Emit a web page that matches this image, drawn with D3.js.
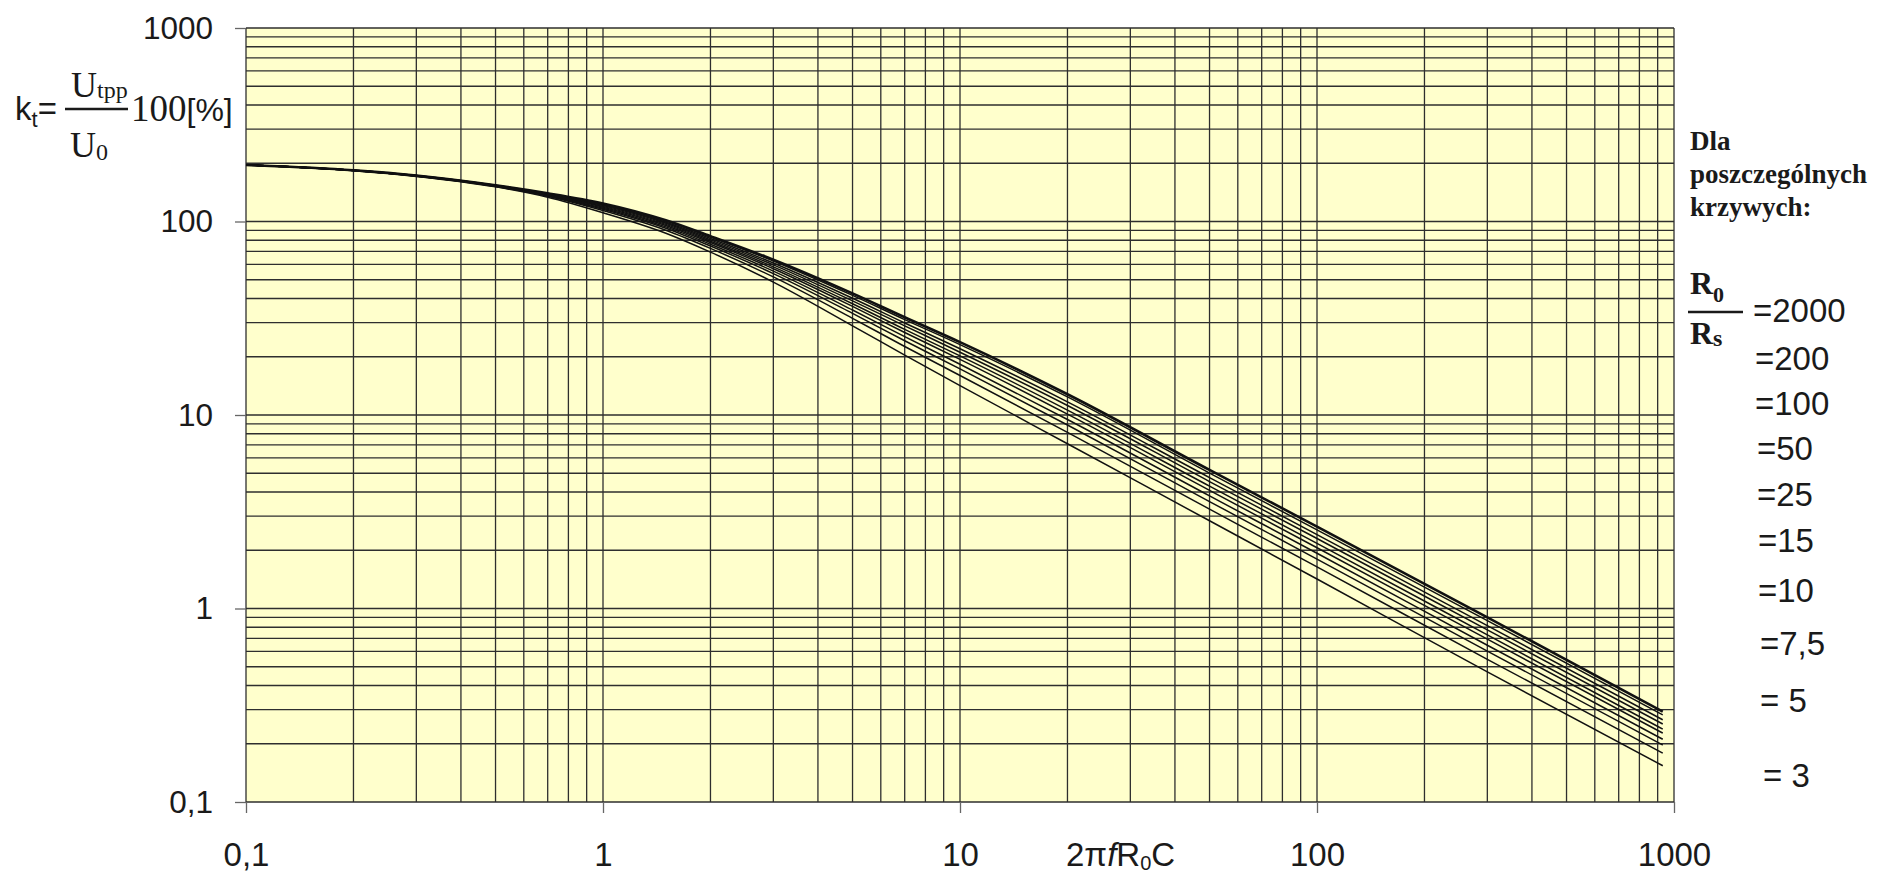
<!DOCTYPE html>
<html>
<head>
<meta charset="utf-8">
<script src="https://cdn.jsdelivr.net/npm/d3@7"></script>
<style>
    body { margin: 0; background: #ffffff; }
    svg { display: block; }
    .tick text { fill: #1a1a1a; font-family: "Liberation Sans", Arial, sans-serif; }
    .tick line { stroke: #666666; }
    .domain { display: none; }
</style>
</head>
<body>
<div id="chart"></div>
<script>

// Chart data
// ==========

// x values of the read points (2*pi*f*R0*C)
var xValues = [0.1, 0.2, 0.3, 0.5, 0.7, 1, 1.5, 2, 3, 5, 7, 10, 20, 50, 100, 300, 930];

// k_t [%] of each curve, one array per R0/Rs ratio
var k2000 = [196, 184, 173, 154, 140, 124, 101.5, 84, 63.5, 42.5, 32, 23.8, 12.8, 5.2, 2.65, 0.9, 0.293];
var k200 = [196, 183.9, 172.9, 153.8, 139.6, 123.2, 100.6, 83.1, 62.5, 41.5, 31.1, 23.1, 12.4, 5.01, 2.55, 0.866, 0.282];
var k100 = [196, 183.8, 172.7, 153.5, 139, 122, 99.2, 81.7, 61, 40.1, 29.9, 22, 11.7, 4.75, 2.41, 0.816, 0.266];
var k50 = [196, 183.8, 172.5, 153.3, 138.5, 120.9, 98, 80.4, 59.7, 38.9, 28.9, 21.1, 11.2, 4.53, 2.3, 0.775, 0.253];
var k25 = [196, 183.6, 172.4, 153, 137.9, 119.7, 96.6, 79.1, 58.3, 37.6, 27.7, 20.2, 10.6, 4.29, 2.17, 0.731, 0.238];
var k15 = [196, 183.6, 172.2, 152.8, 137.4, 118.6, 95.4, 77.9, 57, 36.4, 26.7, 19.4, 10.1, 4.08, 2.06, 0.694, 0.227];
var k10 = [196, 183.5, 172, 152.5, 136.7, 117.2, 93.8, 76.3, 55.4, 34.9, 25.4, 18.3, 9.48, 3.82, 1.93, 0.646, 0.211];
var k7_5 = [196, 183.4, 171.8, 152.1, 136, 115.7, 92.3, 74.7, 53.8, 33.5, 24.2, 17.3, 8.88, 3.57, 1.8, 0.602, 0.197];
var k5 = [196, 183.2, 171.5, 151.7, 135, 113.9, 90.1, 72.6, 51.7, 31.6, 22.6, 16, 8.13, 3.26, 1.64, 0.546, 0.179];
var k3 = [196, 183, 171, 151, 133.5, 111, 87, 69.5, 48.6, 28.9, 20.4, 14.2, 7.1, 2.84, 1.42, 0.47, 0.154];

var seriesValues = [k2000, k200, k100, k50, k25, k15, k10, k7_5, k5, k3];

// Legend labels (R0/Rs)
var legendLabels = ["=2000", "=200", "=100", "=50", "=25", "=15", "=10", "=7,5", "= 5", "= 3"];

// Tick values and labels
var xTicks = [0.1, 1, 10, 100, 1000];
var xTickLabels = ["0,1", "1", "10", "100", "1000"];
var yTicks = [0.1, 1, 10, 100, 1000];
var yTickLabels = ["0,1", "1", "10", "100", "1000"];

// Set up the chart
// ================

var svgWidth = 1886;
var svgHeight = 874;

var plot = { left: 246, right: 1674, top: 28, bottom: 802 };

var sans = "'Liberation Sans', Arial, sans-serif";
var serif = "'Liberation Serif', 'Times New Roman', serif";

var svg = d3.select("#chart")
    .append("svg")
    .attr("width", svgWidth)
    .attr("height", svgHeight);

var xScale = d3.scaleLog().domain([0.1, 1000]).range([plot.left, plot.right]);
var yScale = d3.scaleLog().domain([0.1, 1000]).range([plot.bottom, plot.top]);

// Plot background
svg.append("rect")
    .attr("x", plot.left)
    .attr("y", plot.top)
    .attr("width", plot.right - plot.left)
    .attr("height", plot.bottom - plot.top)
    .attr("fill", "#ffffcc");

// Grid lines at 1..9 of every decade
var gridGroup = svg.append("g")
    .attr("stroke", "#2e2e2e")
    .attr("stroke-width", 1.3);

gridGroup.selectAll(".vgrid")
    .data(xScale.ticks())
    .enter()
    .append("line")
    .attr("class", "vgrid")
    .attr("x1", d => xScale(d))
    .attr("x2", d => xScale(d))
    .attr("y1", plot.top)
    .attr("y2", plot.bottom);

gridGroup.selectAll(".hgrid")
    .data(yScale.ticks())
    .enter()
    .append("line")
    .attr("class", "hgrid")
    .attr("x1", plot.left)
    .attr("x2", plot.right)
    .attr("y1", d => yScale(d))
    .attr("y2", d => yScale(d));

// Axes
// ====
var bottomAxis = d3.axisBottom(xScale)
    .tickValues(xTicks)
    .tickFormat((d, i) => xTickLabels[i])
    .tickSize(11)
    .tickSizeOuter(0)
    .tickPadding(30);

var leftAxis = d3.axisLeft(yScale)
    .tickValues(yTicks)
    .tickFormat((d, i) => yTickLabels[i])
    .tickSize(11)
    .tickSizeOuter(0)
    .tickPadding(22);

svg.append("g")
    .attr("transform", `translate(0, ${plot.bottom})`)
    .call(bottomAxis)
    .selectAll("text")
    .style("font-size", "33px");

svg.append("g")
    .attr("transform", `translate(${plot.left}, 0)`)
    .call(leftAxis)
    .selectAll("text")
    .style("font-size", "31.5px");

svg.selectAll(".tick line").attr("stroke-width", 1.3);

// Curves
// ======
var curveLine = d3.line()
    .x(d => xScale(d[0]))
    .y(d => yScale(d[1]))
    .curve(d3.curveMonotoneX);

svg.append("g")
    .selectAll("path")
    .data(seriesValues)
    .enter()
    .append("path")
    .attr("d", vals => curveLine(vals.map((v, i) => [xValues[i], v])))
    .attr("fill", "none")
    .attr("stroke", "#111111")
    .attr("stroke-width", (d, i) => i === 0 ? 2.6 : 1.5);

// x axis title: 2πfR0C
var xTitle = svg.append("text")
    .attr("x", 1066)
    .attr("y", 866)
    .style("font-family", sans)
    .style("font-size", "33px")
    .attr("fill", "#1a1a1a");
xTitle.append("tspan").text("2π");
xTitle.append("tspan").style("font-style", "italic").text("f");
xTitle.append("tspan").text("R");
xTitle.append("tspan").attr("dy", 4).style("font-size", "20px").text("0");
xTitle.append("tspan").attr("dy", -4).text("C");

// y axis title: kt = Utpp / U0 100[%]
var kText = svg.append("text")
    .attr("x", 15)
    .attr("y", 120)
    .attr("fill", "#1a1a1a")
    .style("font-family", sans)
    .style("font-size", "33px");
kText.append("tspan").text("k");
kText.append("tspan").attr("dy", 7).style("font-size", "22px").text("t");
kText.append("tspan").attr("dy", -7).text("=");

svg.append("line")
    .attr("x1", 65).attr("x2", 128)
    .attr("y1", 109).attr("y2", 109)
    .attr("stroke", "#1a1a1a")
    .attr("stroke-width", 2.5);

var num = svg.append("text")
    .attr("x", 71)
    .attr("y", 97)
    .attr("fill", "#1a1a1a")
    .style("font-family", serif)
    .style("font-size", "36px");
num.append("tspan").text("U");
num.append("tspan").attr("dy", 1).style("font-size", "24px").text("tpp");

var den = svg.append("text")
    .attr("x", 70)
    .attr("y", 157)
    .attr("fill", "#1a1a1a")
    .style("font-family", serif)
    .style("font-size", "36px");
den.append("tspan").text("U");
den.append("tspan").attr("dy", 3).style("font-size", "24px").text("0");

var pct = svg.append("text")
    .attr("x", 131)
    .attr("y", 121)
    .attr("fill", "#1a1a1a")
    .style("font-size", "37px");
pct.append("tspan").style("font-family", serif).text("100");
pct.append("tspan").style("font-family", sans).style("font-size", "32px").text("[%]");

// Legend on the right
// ===================
var legendHead = ["Dla", "poszczególnych", "krzywych:"];
svg.append("g")
    .selectAll("text")
    .data(legendHead)
    .enter()
    .append("text")
    .attr("x", 1690)
    .attr("y", (d, i) => 150 + i * 33)
    .attr("fill", "#1a1a1a")
    .style("font-family", serif)
    .style("font-weight", "bold")
    .style("font-size", "27px")
    .text(d => d);

var rNum = svg.append("text")
    .attr("x", 1690)
    .attr("y", 294)
    .attr("fill", "#1a1a1a")
    .style("font-family", serif)
    .style("font-weight", "bold")
    .style("font-size", "32px");
rNum.append("tspan").text("R");
rNum.append("tspan").attr("dy", 8).style("font-size", "22px").text("0");

svg.append("line")
    .attr("x1", 1688).attr("x2", 1743)
    .attr("y1", 312).attr("y2", 312)
    .attr("stroke", "#1a1a1a")
    .attr("stroke-width", 2.5);

var rDen = svg.append("text")
    .attr("x", 1690)
    .attr("y", 344)
    .attr("fill", "#1a1a1a")
    .style("font-family", serif)
    .style("font-weight", "bold")
    .style("font-size", "32px");
rDen.append("tspan").text("R");
rDen.append("tspan").attr("dy", 2).style("font-size", "24px").text("s");

// baselines and left edges of the legend labels
var legendY = [322, 370, 415, 460, 506, 552, 602, 655, 712, 787];
var legendX = [1753, 1755, 1755, 1757, 1757, 1758, 1758, 1760, 1760, 1763];

svg.append("g")
    .selectAll("text")
    .data(legendLabels)
    .enter()
    .append("text")
    .attr("x", (d, i) => legendX[i])
    .attr("y", (d, i) => legendY[i])
    .attr("fill", "#1a1a1a")
    .style("font-family", sans)
    .style("font-size", "33px")
    .style("white-space", "pre")
    .attr("xml:space", "preserve")
    .text(d => d);

</script>
</body>
</html>
